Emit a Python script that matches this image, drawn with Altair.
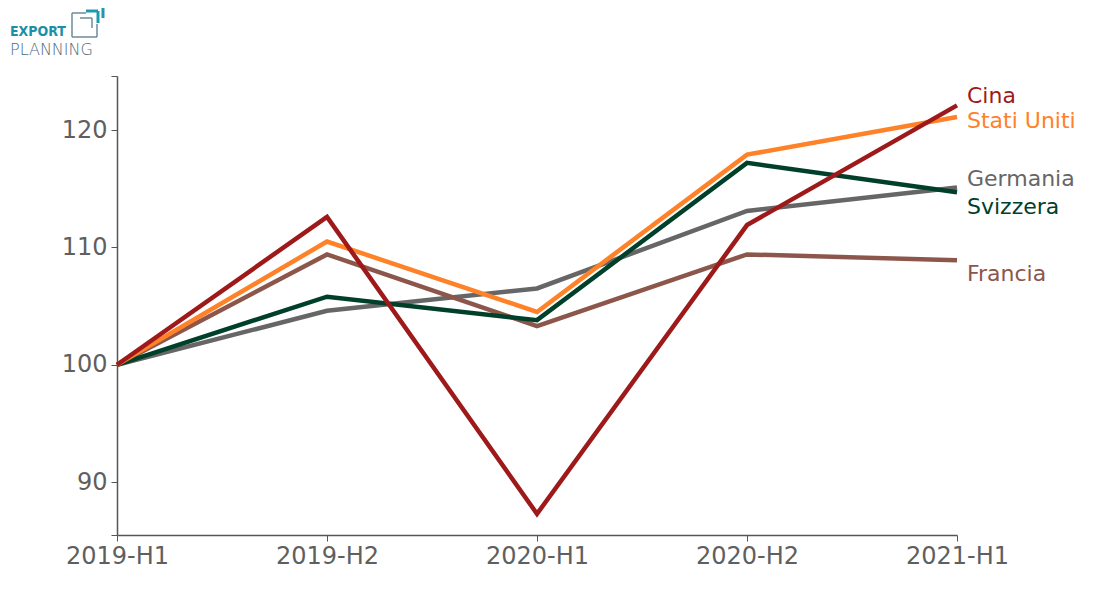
import altair as alt
import pandas as pd

periods = ["2019-H1", "2019-H2", "2020-H1", "2020-H2", "2021-H1"]
series = ["Germania", "Francia", "Svizzera", "Stati Uniti", "Cina"]
values = {
    "Germania":    [100, 104.6, 106.5, 113.1, 115.1],
    "Francia":     [100, 109.4, 103.3, 109.4, 108.9],
    "Svizzera":    [100, 105.8, 103.8, 117.2, 114.7],
    "Stati Uniti": [100, 110.5, 104.5, 117.9, 121.1],
    "Cina":        [100, 112.6, 87.3, 111.9, 122.1],
}
colors = ["#666666", "#8c564b", "#00402a", "#ff8128", "#9e1a1a"]
# label anchor values (dodged so labels don't overlap)
label_y = [115.8, 107.7, 113.4, 120.8, 122.9]

rows = []
for s in series:
    for p, v in zip(periods, values[s]):
        rows.append({"period": p, "series": s, "value": v, "order": series.index(s)})
df = pd.DataFrame(rows)
lab = pd.DataFrame({"series": series, "period": periods[-1], "ly": label_y})

FONT = "DejaVu Sans"
ymin, ymax = 85.5, 124.6

xenc = alt.X("period:N", sort=periods, scale=alt.Scale(type="point", padding=0),
             axis=alt.Axis(title=None, labelAngle=0, labelFontSize=24, labelColor="#5f5f5f",
                           labelFont=FONT, domainColor="#555555", tickColor="#555555",
                           tickSize=6, labelPadding=3, grid=False, domainWidth=1.5))
yscale = alt.Scale(domain=[ymin, ymax], nice=False, zero=False)
color = alt.Color("series:N", scale=alt.Scale(domain=series, range=colors), legend=None)

lines = alt.Chart(df).mark_line(strokeWidth=4.5, clip=False).encode(
    x=xenc,
    y=alt.Y("value:Q", scale=yscale,
            axis=alt.Axis(title=None, values=[ymin, 90, 100, 110, 120, ymax],
                          labelExpr="(datum.value==85.5||datum.value==124.6)?'':datum.label",
                          labelFontSize=24, labelColor="#5f5f5f", labelFont=FONT,
                          domainColor="#555555", tickColor="#555555", tickSize=6,
                          labelPadding=4, grid=False, domainWidth=1.5)),
    color=color,
    detail="series:N",
    order="order:Q",
)

labels = alt.Chart(lab).mark_text(align="left", baseline="middle", dx=10, fontSize=22,
                                  font=FONT).encode(
    x=alt.X("period:N", sort=periods),
    y=alt.Y("ly:Q", scale=yscale),
    text="series:N",
    color=color,
)

logo1 = alt.Chart(pd.DataFrame({"t": ["EXPORT"]})).mark_text(
    align="left", baseline="alphabetic", fontSize=14, fontWeight="bold",
    font="DejaVu Sans Condensed", color="#1b8fa6").encode(
    x=alt.value(-107), y=alt.value(-40), text="t:N")
logo2 = alt.Chart(pd.DataFrame({"t": ["PLANNING"]})).mark_text(
    align="left", baseline="alphabetic", fontSize=16, fontWeight=200, font=FONT,
    color="#4f6b78").encode(x=alt.value(-107), y=alt.value(-21), text="t:N")

# logo icon segments (pixel offsets relative to plot origin)
seg = pd.DataFrame({
    "x":  [-45, -45, -20, -45, -37, -25, -31, -19, -26, -14],
    "x2": [-45, -20, -20, -31, -25, -25, -19, -19, -14, -14],
    "y":  [-63, -39, -52, -63, -58, -58, -65, -65, -70, -70],
    "y2": [-39, -39, -39, -63, -58, -48, -65, -53, -70, -58],
    "c":  ["g", "g", "g", "g", "g", "g", "t", "t", "t", "t"],
})
icon = alt.Chart(seg).mark_rule().encode(
    x=alt.X("x:Q", scale=None), x2="x2:Q",
    y=alt.Y("y:Q", scale=None), y2="y2:Q",
    color=alt.Color("c:N", scale=alt.Scale(domain=["g", "t"], range=["#6f8c99", "#1b9ab0"]),
                    legend=None),
    strokeWidth=alt.StrokeWidth("c:N", scale=alt.Scale(domain=["g", "t"], range=[1.5, 3]),
                                legend=None),
)

chart = alt.layer(lines, labels, logo1, logo2, icon).resolve_scale(
    color="independent", strokeWidth="independent"
).properties(
    width=840, height=459,
    padding={"left": 109, "top": 68, "right": 125, "bottom": 45},
    autosize=alt.AutoSizeParams(type="none"),
    background="white",
).configure_view(stroke=None)

chart.save("out.html", embed_options={"renderer": "svg", "actions": False})
